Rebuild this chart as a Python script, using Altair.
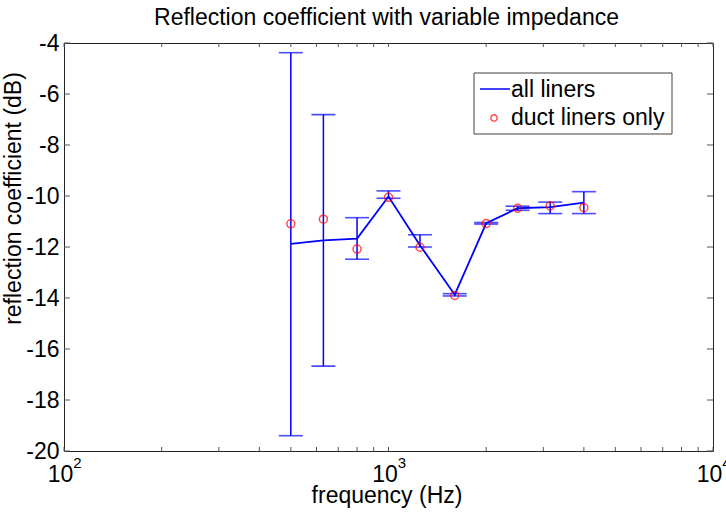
import altair as alt
import pandas as pd

# ---- data ----
freq = [500, 630, 800, 1000, 1250, 1600, 2000, 2500, 3150, 4000]
all_liners = [-11.88, -11.74, -11.67, -10.02, -11.93, -13.87, -11.07, -10.48, -10.44, -10.26]
err_low = [-19.40, -16.67, -12.48, -10.09, -12.00, -13.92, -11.10, -10.56, -10.69, -10.69]
err_high = [-4.38, -6.81, -10.85, -9.80, -11.52, -13.83, -11.04, -10.40, -10.24, -9.83]
duct_only = [-11.09, -10.91, -12.08, -10.05, -12.01, -13.90, -11.08, -10.48, -10.39, -10.46]

y_ticks = [-20, -18, -16, -14, -12, -10, -8, -6, -4]
x_major = [100, 1000, 10000]
x_exp = ["2", "3", "4"]
x_minor = [200, 300, 400, 500, 600, 700, 800, 900,
           2000, 3000, 4000, 5000, 6000, 7000, 8000, 9000]
legend_labels = ["all liners", "duct liners only"]
title_text = "Reflection coefficient with variable impedance"

W, H = 649, 408
FONT = "Liberation Sans"
FS = 23
BLUE = "#0000ff"
RED = "#ff0000"
TICK = "#555555"

df = pd.DataFrame({"freq": freq, "all": all_liners, "lo": err_low,
                   "hi": err_high, "duct": duct_only})
caps = pd.DataFrame({"freq": freq + freq, "v": err_low + err_high})
yt = pd.DataFrame({"v": y_ticks})
xt = pd.DataFrame({"f": x_major + x_minor})
xl = pd.DataFrame({"f": x_major, "base": ["10"] * 3, "exp": x_exp})
one = pd.DataFrame({"a": [0]})

xs = alt.Scale(type="log", domain=[100, 10000], nice=False)
ys = alt.Scale(domain=[-20, -4], nice=False, zero=False)

X = alt.X("freq:Q", scale=xs,
          axis=alt.Axis(title="frequency (Hz)", labels=False, ticks=False,
                        domain=False, grid=False, titleFont=FONT,
                        titleFontSize=FS, titleFontWeight="normal",
                        titleColor="black", titleX=W / 2 - 2, titleY=51,
                        titleBaseline="alphabetic", titleAlign="center"))
Y = alt.Y("all:Q", scale=ys,
          axis=alt.Axis(title="reflection coefficient (dB)", values=y_ticks,
                        ticks=False, domain=False, grid=False,
                        labelExpr="datum.value + ''",
                        labelFont=FONT, labelFontSize=FS, labelColor="black",
                        labelPadding=5, labelOverlap=False,
                        titleFont=FONT, titleFontSize=FS,
                        titleFontWeight="normal", titleColor="black",
                        titleX=-44, titleY=155, titleAngle=270,
                        titleBaseline="alphabetic", titleAlign="center"))

base = alt.Chart(df)

# error bar verticals
ebar = base.mark_rule(color=BLUE, strokeWidth=1.5).encode(
    x=alt.X("freq:Q", scale=xs), y=alt.Y("lo:Q", scale=ys), y2="hi:Q")
# caps
cap = alt.Chart(caps).mark_tick(color=BLUE, orient="horizontal", size=24,
                                thickness=1.6).encode(
    x=alt.X("freq:Q", scale=xs), y=alt.Y("v:Q", scale=ys))
# main line
line = base.mark_line(color=BLUE, strokeWidth=1.8).encode(x=X, y=Y)
# duct liners circles
pts = base.mark_point(shape="circle", filled=False, color=RED, size=64,
                      strokeWidth=1.5).encode(
    x=alt.X("freq:Q", scale=xs), y=alt.Y("duct:Q", scale=ys))

# inward ticks
yl = alt.Chart(yt).mark_rule(color=TICK, strokeWidth=1).encode(
    y=alt.Y("v:Q", scale=ys), x=alt.value(0), x2=alt.value(6))
yr = alt.Chart(yt).mark_rule(color=TICK, strokeWidth=1).encode(
    y=alt.Y("v:Q", scale=ys), x=alt.value(W - 6), x2=alt.value(W))
xb = alt.Chart(xt).mark_rule(color=TICK, strokeWidth=1).encode(
    x=alt.X("f:Q", scale=xs), y=alt.value(H), y2=alt.value(H - 4))
xtp = alt.Chart(xt).mark_rule(color=TICK, strokeWidth=1).encode(
    x=alt.X("f:Q", scale=xs), y=alt.value(0), y2=alt.value(4))

# x tick labels 10^n
lab10 = alt.Chart(xl).mark_text(font=FONT, fontSize=FS, color="black",
                                align="center", baseline="alphabetic",
                                dx=-3.5).encode(
    x=alt.X("f:Q", scale=xs), y=alt.value(H + 31), text="base:N")
labexp = alt.Chart(xl).mark_text(font=FONT, fontSize=15, color="black",
                                 align="center", baseline="alphabetic",
                                 dx=13.5).encode(
    x=alt.X("f:Q", scale=xs), y=alt.value(H + 17), text="exp:N")

# title
ttl = alt.Chart(pd.DataFrame({"t": [title_text]})).mark_text(
    font=FONT, fontSize=FS, color="black", align="center",
    baseline="alphabetic").encode(
    x=alt.value(W / 2 - 2), y=alt.value(-18), text="t:N")

# legend
lx0, ly0 = 410, 30
leg_box = alt.Chart(one).mark_rect(fill="white", stroke="#404040",
                                   strokeWidth=1).encode(
    x=alt.value(lx0), x2=alt.value(lx0 + 198),
    y=alt.value(ly0), y2=alt.value(ly0 + 61))
leg_line = alt.Chart(one).mark_rule(color=BLUE, strokeWidth=1.5).encode(
    x=alt.value(lx0 + 6), x2=alt.value(lx0 + 36), y=alt.value(ly0 + 16))
leg_pt = alt.Chart(one).mark_point(shape="circle", filled=False, color=RED,
                                   size=40, strokeWidth=1.5).encode(
    x=alt.value(lx0 + 20), y=alt.value(ly0 + 45))
leg_t1 = alt.Chart(pd.DataFrame({"t": [legend_labels[0]]})).mark_text(
    font=FONT, fontSize=FS, color="black", align="left",
    baseline="alphabetic").encode(
    x=alt.value(lx0 + 37), y=alt.value(ly0 + 24), text="t:N")
leg_t2 = alt.Chart(pd.DataFrame({"t": [legend_labels[1]]})).mark_text(
    font=FONT, fontSize=FS, color="black", align="left",
    baseline="alphabetic").encode(
    x=alt.value(lx0 + 37), y=alt.value(ly0 + 52), text="t:N")

chart = alt.layer(
    line, ebar, cap, pts, yl, yr, xb, xtp, lab10, labexp, ttl,
    leg_box, leg_line, leg_pt, leg_t1, leg_t2
).properties(
    width=W, height=H,
    autosize=alt.AutoSizeParams(type="none"),
    padding={"left": 64, "top": 43, "right": 13, "bottom": 66},
    background="white",
).configure_view(stroke="#262626", strokeWidth=1)

chart.save("out.html", embed_options={"renderer": "svg", "actions": False})
